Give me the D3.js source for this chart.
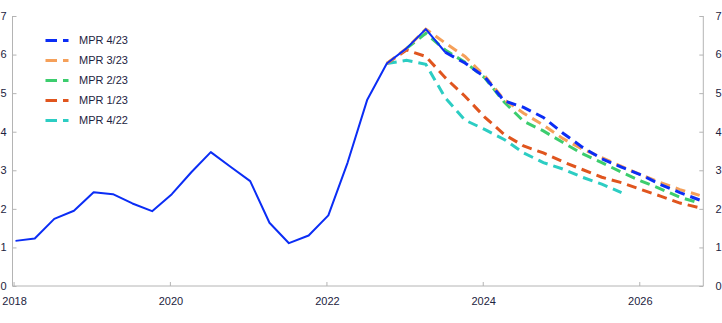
<!DOCTYPE html>
<html>
<head>
<meta charset="utf-8">
<script src="https://cdn.jsdelivr.net/npm/d3@7"></script>
<style>
  html, body { margin: 0; padding: 0; background: #fff; }
  svg { display: block; font-family: "Liberation Sans", Arial, sans-serif; }
</style>
</head>
<body>
<svg id="chart" width="722" height="323"></svg>
<script>
// ---------------- data ----------------
const yTicks = [0, 1, 2, 3, 4, 5, 6, 7];
const xTickYears = [2018, 2020, 2022, 2024, 2026];

const historyStart = "2018Q1";
const historyValues = [1.17, 1.23, 1.74, 1.95, 2.43, 2.38, 2.14, 1.94,
                       2.38, 2.95, 3.47, 3.09, 2.72, 1.64, 1.11, 1.31,
                       1.83, 3.2, 4.82, 5.77, 6.16, 6.66, 6.06];

const seriesNames = ["MPR 4/23", "MPR 3/23", "MPR 2/23", "MPR 1/23", "MPR 4/22"];
const seriesColors = ["#0b2df5", "#f5a05a", "#3ccd6e", "#e0551e", "#2ccdc3"];
const seriesStarts = ["2023Q3", "2022Q4", "2023Q1", "2022Q4", "2022Q4"];
const mpr423 = [6.06, 5.78, 5.42, 4.8, 4.63, 4.37, 3.96, 3.6, 3.3, 3.08, 2.88, 2.63, 2.42, 2.23];
const mpr323 = [5.77, 6.16, 6.66, 6.3, 5.95, 5.45, 4.83, 4.48, 4.17, 3.82, 3.55, 3.33, 3.1, 2.88, 2.68, 2.5, 2.35];
const mpr223 = [6.16, 6.55, 6.12, 5.8, 5.4, 4.77, 4.27, 4.02, 3.72, 3.43, 3.2, 2.95, 2.72, 2.52, 2.3, 2.15];
const mpr123 = [5.77, 6.12, 5.95, 5.4, 4.92, 4.38, 3.93, 3.63, 3.45, 3.22, 3.02, 2.82, 2.68, 2.5, 2.33, 2.15, 2.03];
const mpr422 = [5.77, 5.85, 5.75, 4.88, 4.3, 4.06, 3.8, 3.45, 3.2, 3.03, 2.82, 2.64, 2.42];
const seriesValues = [mpr423, mpr323, mpr223, mpr123, mpr422];

// ---------------- helpers ----------------
function quarterDate(label, offset) {
  const yr = +label.slice(0, 4), q = +label.slice(5);
  const idx = (q - 1) + offset;
  const yy = yr + Math.floor(idx / 4), qq = idx % 4;
  return new Date(yy, qq * 3, 10);
}
function toPoints(start, values) {
  return values.map((v, i) => ({ date: quarterDate(start, i), value: v }));
}

// ---------------- layout ----------------
const svg = d3.select("#chart");
const padL = 12.5, padR = 703.3, padT = 16, padB = 286;
const axisColor = "#b4b4b4", textColor = "#1c2340";

const x = d3.scaleTime()
  .domain([new Date(2017, 11, 27), new Date(2026, 9, 27)])
  .range([padL, padR]);
const y = d3.scaleLinear().domain([0, 7]).range([padB, padT]);

// axes
const axisL = svg.append("g").attr("transform", `translate(${padL},0)`)
  .call(d3.axisRight(y).tickValues(yTicks).tickSize(4).tickFormat(""));
const axisR = svg.append("g").attr("transform", `translate(${padR},0)`)
  .call(d3.axisLeft(y).tickValues(yTicks).tickSize(4).tickFormat(""));
const axisB = svg.append("g").attr("transform", `translate(0,${padB})`)
  .call(d3.axisTop(x).tickValues(xTickYears.map(yr => new Date(yr, 0, 1))).tickSize(4).tickFormat(""));
[axisL, axisR, axisB].forEach(g => {
  g.select(".domain").attr("stroke", axisColor).attr("stroke-width", 1);
  g.selectAll(".tick line").attr("stroke", axisColor);
});
axisL.select(".domain").attr("d", `M0,${padT}V${padB}`);
axisR.select(".domain").attr("d", `M0,${padT}V${padB}`);
axisB.select(".domain").attr("d", `M${padL},0H${padR}`);

// tick labels
svg.append("g").selectAll("text").data(yTicks).join("text")
  .attr("x", 6.5).attr("y", d => y(d)).attr("dy", "0.35em")
  .attr("text-anchor", "end").attr("font-size", 11).attr("fill", textColor)
  .text(d => d);
svg.append("g").selectAll("text").data(yTicks).join("text")
  .attr("x", 715.5).attr("y", d => y(d)).attr("dy", "0.35em")
  .attr("text-anchor", "start").attr("font-size", 11).attr("fill", textColor)
  .text(d => d);
svg.append("g").selectAll("text").data(xTickYears).join("text")
  .attr("x", d => x(new Date(d, 0, 1)) + 1).attr("y", 305)
  .attr("text-anchor", "middle").attr("font-size", 11).attr("fill", textColor)
  .text(d => d);

// lines
const line = d3.line().x(d => x(d.date)).y(d => y(d.value));
const order = [4, 3, 2, 1, 0];
order.forEach(i => {
  svg.append("path")
    .datum(toPoints(seriesStarts[i], seriesValues[i]))
    .attr("d", line)
    .attr("fill", "none")
    .attr("stroke", seriesColors[i])
    .attr("stroke-width", 3)
    .attr("stroke-dasharray", "10,6");
});
svg.append("path")
  .datum(toPoints(historyStart, historyValues))
  .attr("d", line)
  .attr("fill", "none")
  .attr("stroke", seriesColors[0])
  .attr("stroke-width", 2)
  .attr("stroke-linejoin", "round");

// legend
const legend = svg.append("g");
seriesNames.forEach((name, i) => {
  const ly = 40.5 + i * 20;
  legend.append("line")
    .attr("x1", 45.5).attr("x2", 68.5).attr("y1", ly).attr("y2", ly)
    .attr("stroke", seriesColors[i]).attr("stroke-width", 3)
    .attr("stroke-dasharray", "11.5,6");
  legend.append("text")
    .attr("x", 79).attr("y", ly).attr("dy", "0.35em")
    .attr("font-size", 11).attr("fill", textColor)
    .text(name);
});
</script>
</body>
</html>
